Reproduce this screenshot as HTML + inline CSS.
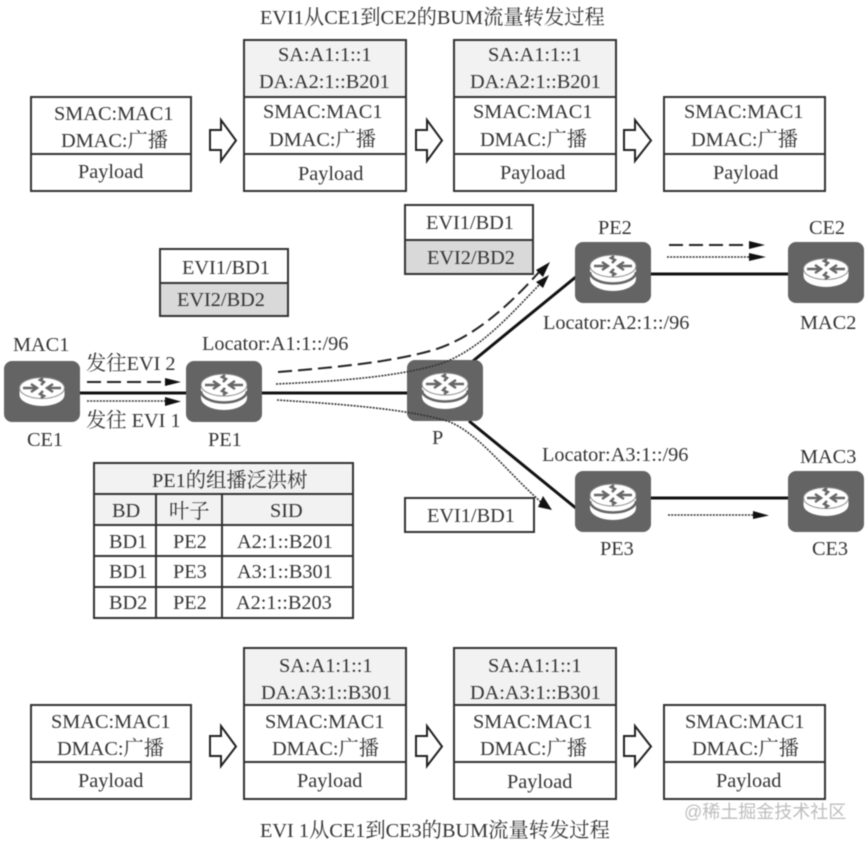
<!DOCTYPE html>
<html>
<head>
<meta charset="utf-8">
<style>
html,body{margin:0;padding:0;background:#fff;width:868px;height:845px;overflow:hidden}
svg{display:block;filter:blur(0.5px)}
text{font-family:"Liberation Serif","Noto Serif CJK SC",serif;font-size:20.3px;fill:#333}
.b{fill:#fff;stroke:#333;stroke-width:2}
.g{fill:#f2f2f2;stroke:#333;stroke-width:2}
.d{fill:#d9d9d9;stroke:#333;stroke-width:2}
.ar{fill:#fff;stroke:#222;stroke-width:2;stroke-linejoin:miter}
.l{stroke:#111;stroke-width:3;fill:none}
.da{stroke:#222;stroke-width:2;fill:none;stroke-dasharray:14 6}
.dt{stroke:#333;stroke-width:1.6;fill:none;stroke-dasharray:2 1.2}
</style>
</head>
<body>
<svg width="868" height="845" viewBox="0 0 868 845" xmlns="http://www.w3.org/2000/svg">
<defs>
<g id="ar4" fill="none" stroke="#666" stroke-width="2.4">
  <path d="M19 0H6M11 -4L5 0L11 4"/>
  <path d="M-19 0H-6M-11 -4L-5 0L-11 4"/>
  <path d="M-1 -3L2 -6L-2 -8L1 -10"/>
  <path d="M1 3L-2 6L2 8L-1 10"/>
</g>
<g id="r1">
  <rect width="76" height="61" rx="8" fill="#646464"/>
  <path d="M15.500 27v7a22.500 11 0 0 0 45 0v-7z" fill="#fff"/>
  <ellipse cx="38" cy="27" rx="22.500" ry="10.500" fill="#fff" stroke="#8a8a8a" stroke-width="1"/>
  <use href="#ar4" transform="translate(38,27)"/>
</g>
<g id="r2">
  <rect width="76" height="61" rx="8" fill="#646464"/>
  <path d="M15 24v13a23 12 0 0 0 46 0v-13z" fill="#fff"/>
  <path d="M15 30a23 11.500 0 0 0 46 0" fill="none" stroke="#646464" stroke-width="2.500"/>
  <ellipse cx="38" cy="24" rx="23" ry="11" fill="#fff" stroke="#8a8a8a" stroke-width="1"/>
  <use href="#ar4" transform="translate(38,24)"/>
</g>
</defs>

<!-- top row -->
<text x="260" y="24">EVI1从CE1到CE2的BUM流量转发过程</text>

<rect class="b" x="31" y="97" width="160" height="94"/><line class="b" x1="31" y1="154" x2="191" y2="154"/>
<text x="54" y="120">SMAC:MAC1</text><text x="61" y="147">DMAC:广播</text><text x="78" y="178">Payload</text>

<rect class="b" x="244" y="97" width="162" height="94"/><rect class="g" x="244" y="40" width="162" height="57"/><line class="b" x1="244" y1="154" x2="406" y2="154"/>
<text x="278" y="61">SA:A1:1::1</text><text x="259" y="88">DA:A2:1::B201</text>
<text x="263" y="118">SMAC:MAC1</text><text x="269" y="146">DMAC:广播</text><text x="298" y="180">Payload</text>

<rect class="b" x="454" y="97" width="162" height="94"/><rect class="g" x="454" y="40" width="162" height="57"/><line class="b" x1="454" y1="154" x2="616" y2="154"/>
<text x="488" y="61">SA:A1:1::1</text><text x="470" y="88">DA:A2:1::B201</text>
<text x="473" y="118">SMAC:MAC1</text><text x="480" y="146">DMAC:广播</text><text x="500" y="179">Payload</text>

<rect class="b" x="664" y="97" width="161" height="94"/><line class="b" x1="664" y1="154" x2="825" y2="154"/>
<text x="684" y="118">SMAC:MAC1</text><text x="691" y="146">DMAC:广播</text><text x="713" y="179">Payload</text>

<path class="ar" d="M210 130H221V120L236 140.500L221 161V150H210Z"/>
<path class="ar" d="M416 130H427V120L442 140.500L427 161V150H416Z"/>
<path class="ar" d="M624 130H635V120L651 140.500L635 161V150H624Z"/>

<!-- EVI boxes -->
<rect class="b" x="160" y="249" width="128" height="34"/><rect class="d" x="160" y="283" width="128" height="33"/>
<text x="182" y="274">EVI1/BD1</text><text x="177" y="306">EVI2/BD2</text>
<rect class="b" x="405" y="205" width="128" height="35"/><rect class="d" x="405" y="240" width="128" height="34"/>
<text x="426" y="229">EVI1/BD1</text><text x="427" y="264">EVI2/BD2</text>
<rect class="b" x="405" y="498" width="129" height="34"/>
<text x="427" y="522">EVI1/BD1</text>

<!-- links -->
<line class="l" x1="78" y1="393" x2="410" y2="393"/>
<line class="l" x1="473" y1="361" x2="577" y2="276"/>
<line class="l" x1="469" y1="421" x2="577" y2="509"/>
<line class="l" x1="648" y1="274" x2="790" y2="274"/>
<line class="l" x1="648" y1="498" x2="790" y2="498"/>

<!-- routers -->
<use href="#r1" x="4" y="361"/>
<use href="#r2" x="186" y="361"/>
<use href="#r2" x="407" y="360"/>
<use href="#r2" x="575" y="242"/>
<use href="#r1" x="788" y="242"/>
<use href="#r2" x="575" y="471"/>
<use href="#r1" x="788" y="471"/>

<!-- flow arrows -->
<line class="da" x1="87" y1="382" x2="166" y2="382"/><path d="M165 378L181 382L165 386Z" fill="#111"/>
<line class="dt" x1="87" y1="401" x2="166" y2="401"/><path d="M165 397L181 401.500L165 406Z" fill="#111"/>
<line class="da" x1="669" y1="245" x2="750" y2="245"/><path d="M749 241L765 245L749 249Z" fill="#111"/>
<line class="dt" x1="667" y1="257" x2="750" y2="257"/><path d="M749 253L766 257L749 261Z" fill="#111"/>
<line class="dt" x1="668" y1="515" x2="754" y2="515"/><path d="M753 511L769 515.500L753 519Z" fill="#111"/>

<path class="da" d="M278 372C340 367 390 362 430 351C470 340 505 310 540 271"/>
<path d="M536 270L550 262L543 277Z" fill="#111"/>
<path class="dt" d="M276 384C345 381 400 376 440 364C480 350 510 315 540 284"/>
<path d="M536 282L549 275L543 288Z" fill="#111"/>
<path class="dt" d="M277 400C340 404 410 409 450 422C480 435 505 470 542 503"/>
<path d="M538 507L552 510L543 496Z" fill="#111"/>

<!-- labels -->
<text x="13" y="351">MAC1</text>
<text x="202" y="350">Locator:A1:1::/96</text>
<text x="86" y="370">发往EVI 2</text>
<text x="86" y="427">发往 EVI 1</text>
<text x="27" y="446">CE1</text>
<text x="208" y="446">PE1</text>
<text x="432" y="444">P</text>
<text x="598" y="234">PE2</text>
<text x="809" y="234">CE2</text>
<text x="543" y="329">Locator:A2:1::/96</text>
<text x="800" y="329">MAC2</text>
<text x="542" y="461">Locator:A3:1::/96</text>
<text x="800" y="463">MAC3</text>
<text x="600" y="555">PE3</text>
<text x="812" y="555">CE3</text>

<!-- table -->
<rect class="g" x="94" y="463" width="259" height="31"/>
<rect class="g" x="94" y="494" width="259" height="31"/>
<rect class="b" x="94" y="525" width="259" height="93"/>
<g stroke="#333" stroke-width="2">
<line x1="94" y1="556" x2="353" y2="556"/><line x1="94" y1="587" x2="353" y2="587"/>
<line x1="156" y1="494" x2="156" y2="618"/><line x1="222" y1="494" x2="222" y2="618"/>
</g>
<text x="152" y="487">PE1的组播泛洪树</text>
<text x="112" y="517">BD</text><text x="169" y="518">叶子</text><text x="270" y="517">SID</text>
<text x="109" y="548">BD1</text><text x="173" y="548">PE2</text><text x="237" y="548">A2:1::B201</text>
<text x="109" y="578">BD1</text><text x="173" y="578">PE3</text><text x="237" y="578">A3:1::B301</text>
<text x="109" y="609">BD2</text><text x="173" y="609">PE2</text><text x="236" y="609">A2:1::B203</text>

<!-- bottom row -->
<rect class="b" x="31" y="705" width="160" height="94"/><line class="b" x1="31" y1="762" x2="191" y2="762"/>
<text x="51" y="728">SMAC:MAC1</text><text x="57" y="755">DMAC:广播</text><text x="78" y="787">Payload</text>

<rect class="b" x="244" y="705" width="162" height="94"/><rect class="g" x="244" y="648" width="162" height="57"/><line class="b" x1="244" y1="762" x2="406" y2="762"/>
<text x="279" y="672">SA:A1:1::1</text><text x="261" y="699">DA:A3:1::B301</text>
<text x="265" y="728">SMAC:MAC1</text><text x="272" y="755">DMAC:广播</text><text x="297" y="787">Payload</text>

<rect class="b" x="454" y="705" width="162" height="94"/><rect class="g" x="454" y="648" width="162" height="57"/><line class="b" x1="454" y1="762" x2="616" y2="762"/>
<text x="488" y="672">SA:A1:1::1</text><text x="470" y="699">DA:A3:1::B301</text>
<text x="473" y="728">SMAC:MAC1</text><text x="480" y="755">DMAC:广播</text><text x="507" y="788">Payload</text>

<rect class="b" x="664" y="705" width="161" height="94"/><line class="b" x1="664" y1="762" x2="825" y2="762"/>
<text x="685" y="728">SMAC:MAC1</text><text x="692" y="755">DMAC:广播</text><text x="716" y="787">Payload</text>

<path class="ar" d="M210 736H221V726L236 746.500L221 766V756H210Z"/>
<path class="ar" d="M416 736H427V726L442 746.500L427 766V756H416Z"/>
<path class="ar" d="M624 736H635V726L651 746.500L635 766V756H624Z"/>

<text x="260" y="837">EVI 1从CE1到CE3的BUM流量转发过程</text>
<text x="684" y="818" style="font-family:'Liberation Sans','Noto Sans CJK SC',sans-serif;font-size:18px;fill:#bdbdbd">@稀土掘金技术社区</text>
</svg>
</body>
</html>
